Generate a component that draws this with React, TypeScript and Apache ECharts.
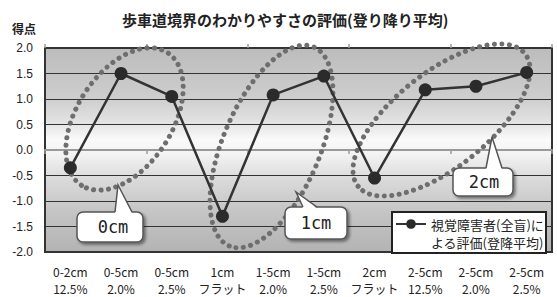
import React, { useEffect, useRef } from "react";
import * as echarts from "echarts";

const titleText = "歩車道境界のわかりやすさの評価(登り降り平均)";
const yAxisName = "得点";
const catTop = ["0-2cm", "0-5cm", "0-5cm", "1cm", "1-5cm", "1-5cm", "2cm", "2-5cm", "2-5cm", "2-5cm"];
const catBottom = ["12.5%", "2.0%", "2.5%", "フラット", "2.0%", "2.5%", "フラット", "12.5%", "2.0%", "2.5%"];
const scores = [-0.35, 1.5, 1.05, -1.3, 1.08, 1.45, -0.55, 1.18, 1.25, 1.52];
const seriesName = "視覚障害者(全盲)による評価(登降平均)";
const legendLines = ["視覚障害者(全盲)に", "よる評価(登降平均)"];
const yTicks = { min: -2, max: 2, interval: 0.5 };
const calloutLabels = ["0cm", "1cm", "2cm"];

const W = 557;
const H = 297;

export default function App() {
  const ref = useRef<HTMLDivElement>(null);
  useEffect(() => {
    if (!ref.current) return;
    const chart = echarts.init(ref.current, null, { renderer: "svg" });
    const categories = catTop.map((t, i) => `${t}\n${catBottom[i]}`);

    const ellipses = [
      { cx: 124.5, cy: 119, rx: 79, ry: 47.5, deg: 57 },
      { cx: 271.5, cy: 146.5, rx: 108, ry: 48.5, deg: 67 },
      { cx: 441.5, cy: 120, rx: 106.5, ry: 47.5, deg: 38.5 },
    ];
    const dotStyle = {
      fill: "none",
      stroke: "#6e6e6e",
      lineWidth: 5,
      lineDash: [0.1, 7.4],
      lineCap: "round",
    };
    const ellipseEls = ellipses.map((e) => ({
      type: "ellipse",
      x: e.cx,
      y: e.cy,
      rotation: (e.deg * Math.PI) / 180,
      shape: { cx: 0, cy: 0, rx: e.rx, ry: e.ry },
      style: dotStyle,
      z: 1,
      silent: true,
    }));

    const callouts = [
      { rect: [77, 212, 66, 30], tip: [118, 185], bl: [115, 212], br: [132, 212], tx: 113, ty: 227 },
      { rect: [285, 207, 62, 32], tip: [296, 192], bl: [303, 207], br: [317, 207], tx: 316, ty: 223 },
      { rect: [453, 168, 60, 28], tip: [492, 137], bl: [486, 168], br: [502, 168], tx: 484, ty: 182 },
    ];
    const calloutEls: any[] = [];
    callouts.forEach((c, i) => {
      const [x, y, w, h] = c.rect;
      calloutEls.push({
        type: "rect",
        shape: { x, y, width: w, height: h, r: 6 },
        style: {
          fill: "#ffffff",
          stroke: "#555",
          lineWidth: 1.5,
          shadowBlur: 3,
          shadowColor: "rgba(0,0,0,0.45)",
          shadowOffsetX: 2,
          shadowOffsetY: 2,
        },
        z: 20,
        silent: true,
      });
      calloutEls.push({
        type: "polygon",
        shape: { points: [c.tip, [c.bl[0], c.bl[1] + 1.5], [c.br[0], c.br[1] + 1.5]] },
        style: { fill: "#ffffff" },
        z: 21,
        silent: true,
      });
      calloutEls.push({
        type: "polyline",
        shape: { points: [c.bl, c.tip, c.br] },
        style: { stroke: "#555", lineWidth: 1.5, fill: "none" },
        z: 22,
        silent: true,
      });
      calloutEls.push({
        type: "text",
        x: c.tx,
        y: c.ty,
        style: {
          text: calloutLabels[i],
          fontFamily: "DejaVu Sans Mono",
          fontSize: 17,
          fill: "#222",
          align: "center",
          verticalAlign: "middle",
        },
        z: 23,
        silent: true,
      });
    });

    const legendBox = {
      type: "rect",
      shape: { x: 392, y: 212, width: 154, height: 41 },
      style: { fill: "#ffffff", stroke: "#222", lineWidth: 2 },
      z: 30,
      silent: true,
    };

    chart.setOption({
      animation: false,
      title: {
        text: titleText,
        left: 117,
        top: 7,
        textStyle: {
          fontFamily: "Noto Sans CJK JP",
          fontSize: 15,
          fontWeight: "bold",
          color: "#222",
        },
      },
      grid: {
        left: 45,
        right: W - 552,
        top: 48,
        bottom: H - 258,
        show: true,
        borderColor: "#333",
        borderWidth: 2,
        backgroundColor: new echarts.graphic.LinearGradient(0, 0, 0, 1, [
          { offset: 0, color: "#bcbcbc" },
          { offset: 0.25, color: "#cecece" },
          { offset: 0.37, color: "#e4e4e4" },
          { offset: 0.45, color: "#fafafa" },
          { offset: 0.52, color: "#f3f3f3" },
          { offset: 0.65, color: "#d9d9d9" },
          { offset: 0.8, color: "#c5c5c5" },
          { offset: 1, color: "#b3b3b3" },
        ]),
      },
      legend: {
        show: true,
        left: 395,
        top: 197,
        padding: 0,
        itemWidth: 30,
        itemHeight: 12,
        itemGap: 5,
        z: 40,
        data: [seriesName],
        formatter: () => "\n" + legendLines.join("\n"),
        textStyle: {
          fontFamily: "Noto Sans CJK JP",
          fontSize: 13,
          color: "#222",
          lineHeight: 18,
        },
      },
      xAxis: [
        {
          type: "category",
          data: categories,
          position: "bottom",
          axisLine: { show: false, onZero: false },
          axisTick: { show: false },
          splitLine: { show: false },
          axisLabel: {
            interval: 0,
            margin: 11,
            fontFamily: "Noto Sans CJK JP",
            fontSize: 12,
            lineHeight: 17,
            color: "#222",
          },
        },
        {
          type: "category",
          data: categories,
          position: "bottom",
          axisLine: { show: true, onZero: true, lineStyle: { color: "#9a9a9a", width: 2 } },
          axisTick: { show: true, length: 4, lineStyle: { color: "#9a9a9a", width: 1.5 } },
          axisLabel: { show: false },
          splitLine: { show: false },
        },
        {
          type: "category",
          data: categories,
          position: "top",
          axisLine: { show: false, onZero: true },
          axisTick: { show: true, length: 4, lineStyle: { color: "#9a9a9a", width: 1.5 } },
          axisLabel: { show: false },
          splitLine: { show: false },
        },
      ],
      yAxis: {
        type: "value",
        min: yTicks.min,
        max: yTicks.max,
        interval: yTicks.interval,
        name: yAxisName,
        nameLocation: "end",
        nameGap: 14,
        nameTextStyle: {
          fontFamily: "Noto Sans CJK JP",
          fontSize: 12,
          fontWeight: "bold",
          color: "#222",
          align: "right",
          padding: [0, 9, 0, 0],
        },
        axisLine: { show: true, lineStyle: { color: "#333", width: 2 } },
        axisTick: { show: false },
        splitLine: { show: true, lineStyle: { color: "#333", width: 1 } },
        axisLabel: {
          margin: 12,
          fontFamily: "Liberation Sans",
          fontSize: 12,
          color: "#222",
          formatter: (v: number) => v.toFixed(1),
        },
      },
      series: [
        {
          name: seriesName,
          type: "line",
          xAxisIndex: 0,
          data: scores,
          symbol: "circle",
          symbolSize: 13,
          z: 5,
          lineStyle: { color: "#333", width: 2.5 },
          itemStyle: { color: "#2b2b2b" },
        },
      ],
      graphic: [...ellipseEls, ...calloutEls, legendBox],
    });
    return () => chart.dispose();
  }, []);
  return (
    <div
      ref={ref}
      style={{ position: "fixed", left: 0, top: 0, width: W, height: H, background: "#fff" }}
    />
  );
}
